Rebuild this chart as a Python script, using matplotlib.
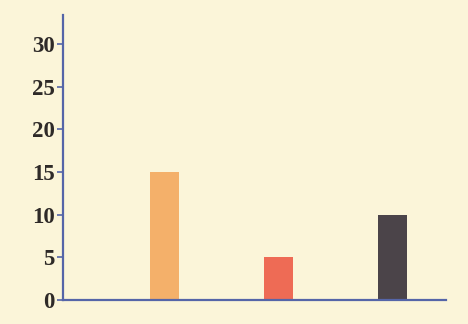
import matplotlib
matplotlib.use("Agg")
import matplotlib.pyplot as plt

positions = [1, 2, 3]
values = [15, 5, 10]
colors = ["#F4B06A", "#EE6B55", "#4B4449"]
yticks = [0, 5, 10, 15, 20, 25, 30]

bg = "#FBF5D9"
axis_color = "#5565A8"

fig = plt.figure(figsize=(4.68, 3.24), dpi=100, facecolor=bg)
ax = fig.add_axes([0.1346, 0.074, 0.818, 0.88], facecolor=bg)

ax.bar(positions, values, width=0.254, color=colors)

ax.set_xlim(0.114, 3.469)
ax.set_ylim(0, 33.4)
ax.set_xticks([])
ax.set_yticks(yticks)
ax.set_yticklabels([str(t) for t in yticks], fontfamily="Liberation Serif",
                   fontweight="bold", fontsize=16.5, color="#2E2A28")

for side in ["top", "right"]:
    ax.spines[side].set_visible(False)
for side in ["left", "bottom"]:
    ax.spines[side].set_color(axis_color)
    ax.spines[side].set_linewidth(1.6)

ax.tick_params(axis="y", direction="out", length=4, width=1.2,
               color=axis_color, pad=2)

fig.savefig("out.png", dpi=100, facecolor=bg)
